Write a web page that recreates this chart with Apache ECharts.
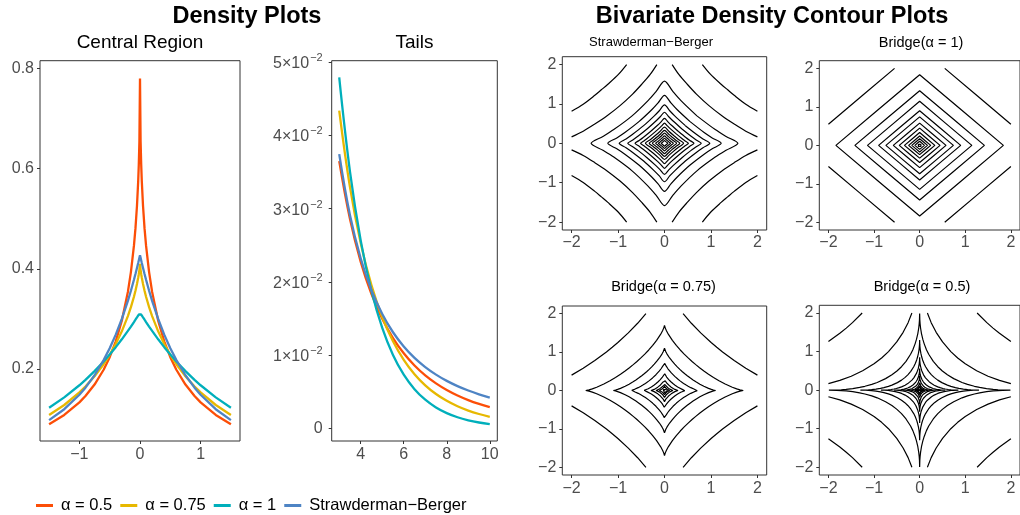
<!DOCTYPE html>
<html><head><meta charset="utf-8">
<script src="https://cdn.jsdelivr.net/npm/echarts@6/dist/echarts.min.js"></script>
<style>html,body{margin:0;padding:0;background:#fff}#c{width:1020px;height:515px}</style>
</head><body><div id="c"></div>
<script>
// ---------------- data ----------------
const seriesNames = ['α = 0.5', 'α = 0.75', 'α = 1', 'Strawderman−Berger'];
const seriesColors = ['#FC4E07', '#E7B800', '#00AFBB', '#4E84C4'];

const centralX = [-1.5,-1.25,-1,-0.9,-0.75,-0.6,-0.5,-0.4,-0.3,-0.2,-0.15,-0.1,-0.075,-0.05,-0.03,-0.02,-0.01,0,0.01,0.02,0.03,0.05,0.075,0.1,0.15,0.2,0.3,0.4,0.5,0.6,0.75,0.9,1,1.25,1.5];
const centralA05 = [.0895,.1081,.1331,.1458,.1687,.1983,.2235,.255,.2962,.3538,.3933,.446,.4806,.5253,.5742,.6075,.6536,.78,.6536,.6075,.5742,.5253,.4806,.446,.3933,.3538,.2962,.255,.2235,.1983,.1687,.1458,.1331,.1081,.0895];
const centralA075 = [.108,.1279,.1531,.1649,.1853,.2094,.2282,.2498,.275,.3054,.3233,.3441,.356,.3694,.3819,.3891,.3974,.41,.3974,.3891,.3819,.3694,.356,.3441,.3233,.3054,.275,.2498,.2282,.2094,.1853,.1649,.1531,.1279,.108];
const centralA1 = [.1224,.1431,.1673,.1781,.1956,.2148,.2286,.2434,.2591,.2758,.2845,.2936,.2982,.3029,.3067,.3086,.3106,.3125,.3106,.3086,.3067,.3029,.2982,.2936,.2845,.2758,.2591,.2434,.2286,.2148,.1956,.1781,.1673,.1431,.1224];
const centralSB = [.0977,.1195,.1484,.1625,.1873,.2175,.2412,.2684,.2997,.3359,.3561,.378,.3895,.4015,.4114,.4166,.4218,.427,.4218,.4166,.4114,.4015,.3895,.378,.3561,.3359,.2997,.2684,.2412,.2175,.1873,.1625,.1484,.1195,.0977];

const tailX = [3,3.5,4,4.5,5,5.5,6,6.5,7,7.5,8,8.5,9,9.5,10];
const tailA05 = [.0365,.02858,.02274,.01834,.01498,.01235,.01027,.008605,.007259,.00616,.005256,.004505,.00388,.003356,.002913];
const tailA075 = [.04339,.03294,.02527,.01953,.01521,.01191,.00938,.007425,.005904,.004715,.003777,.003036,.00245,.001983,.001608];
const tailA1 = [.04792,.03507,.02565,.01877,.01373,.010045,.007349,.005377,.003934,.002878,.002106,.0015405,.001127,.0008245,.000603];
const tailSB = [.03745,.0291,.0232,.01887,.01563,.01314,.0112,.009638,.008384,.007356,.006504,.005792,.005187,.004673,.00423];

const centralXTicks = [-1, 0, 1];
const centralYTicks = [0.2, 0.4, 0.6, 0.8];
const tailXTicks = [4, 6, 8, 10];
const tailYTicks = [0, 0.01, 0.02, 0.03, 0.04, 0.05];
const contourTicks = [-2, -1, 0, 1, 2];

const panelTitles = ['Central Region', 'Tails', 'Strawderman−Berger', 'Bridge(α = 1)', 'Bridge(α = 0.75)', 'Bridge(α = 0.5)'];

// contour lines: first-quadrant half (from the x-axis to the diagonal)
const sbClosed = [
  [[1.58,0],[1.326,0.175],[1.092,0.349],[0.698,0.698]],
  [[1.22,0],[1.027,0.138],[0.853,0.275],[0.551,0.551]],
  [[0.975,0],[0.828,0.112],[0.692,0.225],[0.449,0.449]],
  [[0.79,0],[0.675,0.092],[0.566,0.185],[0.37,0.37]],
  [[0.635,0],[0.545,0.075],[0.459,0.15],[0.301,0.301]],
  [[0.515,0],[0.444,0.062],[0.375,0.123],[0.247,0.247]],
  [[0.41,0],[0.3,0.099],[0.198,0.198]],
  [[0.33,0],[0.245,0.08],[0.16,0.16]],
  [[0.26,0],[0.194,0.064],[0.127,0.127]],
  [[0.19,0],[0.142,0.047],[0.094,0.094]],
  [[0.13,0],[0.097,0.032],[0.064,0.064]],
  [[0.07,0],[0.035,0.035]]
];
const sbOpen = [
  [[2,0.165],[1.75,0.308],[1.5,0.49],[1.25,0.687],[0.957,0.957]],
  [[2,0.815],[1.75,0.992],[1.5,1.219],[1.359,1.359]]
];
const b1Closed = [
  [[1.836,0],[0.918,0.918]],
  [[1.42,0],[0.71,0.71]],
  [[1.144,0],[0.572,0.572]],
  [[0.9,0],[0.45,0.45]],
  [[0.74,0],[0.37,0.37]],
  [[0.578,0],[0.289,0.289]],
  [[0.447,0],[0.2235,0.2235]],
  [[0.333,0],[0.1665,0.1665]],
  [[0.242,0],[0.121,0.121]],
  [[0.172,0],[0.086,0.086]],
  [[0.105,0],[0.0525,0.0525]],
  [[0.055,0],[0.0275,0.0275]]
];
const b1Open = [
  [[2,0.55],[1.275,1.275]]
];
const b075Closed = [
  [[1.695,0],[1.624,.017],[1.554,.042],[1.46,.085],[1.306,.17],[1.173,.254],[1.055,.339],[.947,.424],[.848,.509],[.755,.593],[.673,.673]],
  [[1.1,0],[1.054,.011],[1.009,.028],[.948,.055],[.847,.11],[.762,.165],[.685,.22],[.615,.275],[.55,.33],[.49,.385],[.437,.437]],
  [[.735,0],[.704,.007],[.674,.018],[.633,.037],[.566,.074],[.509,.11],[.458,.147],[.411,.184],[.368,.221],[.327,.257],[.292,.292]],
  [[.455,0],[.436,.005],[.392,.023],[.35,.046],[.283,.091],[.228,.137],[.181,.181]],
  [[.29,0],[.25,.015],[.223,.029],[.181,.058],[.145,.087],[.115,.115]],
  [[.18,0],[.155,.009],[.112,.036],[.071,.071]],
  [[.11,0],[.085,.011],[.044,.044]],
  [[.065,0],[.026,.026]],
  [[.03,0],[.012,.012]]
];
const b075Open = [
  [[2,.4],[1.75,.5785],[1.5,.7793],[1.25,1.0035],[1.125,1.125]]
];
const b05Closed = [
  [[1.99,0],[1.816,.004],[1.719,.01],[1.612,.02],[1.467,.04],[1.315,.07],[1.2,.1],[1.049,.149],[.93,.199],[.747,.299],[.608,.398],[.498,.498]],
  [[1.3,0],[1.186,.003],[1.123,.007],[1.053,.013],[.958,.026],[.859,.046],[.784,.065],[.685,.098],[.608,.13],[.488,.195],[.397,.26],[.325,.325]],
  [[.85,0],[.776,.002],[.734,.004],[.689,.009],[.627,.017],[.562,.03],[.512,.043],[.448,.064],[.397,.085],[.319,.128],[.26,.17],[.213,.213]],
  [[.56,0],[.511,.001],[.484,.003],[.454,.006],[.413,.011],[.37,.02],[.338,.028],[.295,.042],[.262,.056],[.21,.084],[.171,.112],[.14,.14]],
  [[.37,0],[.32,.002],[.273,.007],[.223,.019],[.173,.037],[.113,.074],[.093,.093]],
  [[.24,0],[.194,.002],[.145,.012],[.112,.024],[.073,.048],[.06,.06]],
  [[.155,0],[.114,.003],[.072,.016],[.039,.039]],
  [[.1,0],[.06,.005],[.025,.025]],
  [[.06,0],[.015,.015]],
  [[.035,0],[.009,.009]]
];
const b05Open = [
  [[2,.17],[1.75,.253],[1.5,.362],[1.25,.502],[1,.683],[.834,.834]],
  [[2,1.26],[1.75,1.473],[1.609,1.609]]
];

// ---------------- helpers ----------------
function quadrantArc(half) {
  const back = half.slice(0, -1).reverse().map(p => [p[1], p[0]]);
  return half.concat(back);
}
function closedLoop(half) {
  const q = quadrantArc(half);
  const q2 = q.slice().reverse().map(p => [-p[0], p[1]]);
  const q3 = q.map(p => [-p[0], -p[1]]);
  const q4 = q.slice().reverse().map(p => [p[0], -p[1]]);
  const loop = q.concat(q2.slice(1), q3.slice(1), q4.slice(1));
  const idx = half.length - 1;
  return loop.slice(idx).concat(loop.slice(1, idx + 1));
}
function openArcs(half) {
  const q = quadrantArc(half);
  return [q, q.map(p => [-p[0], p[1]]), q.map(p => [-p[0], -p[1]]), q.map(p => [p[0], -p[1]])];
}
const minus = v => String(v).replace('-', '−');
const FONT = '"Liberation Sans", Arial, sans-serif';
const axisCol = '#333333';
const labCol = '#4D4D4D';
const TICKFS = 16;

function mkAxis(grid, min, max, ticks, fmt, margin) {
  return { gridIndex: grid, type: 'value', min, max,
    axisLine: { show: false, onZero: false },
    axisTick: { show: true, length: 3, customValues: ticks, lineStyle: { color: axisCol, width: 1 } },
    axisLabel: { customValues: ticks, formatter: fmt || minus, color: labCol, fontSize: TICKFS, fontFamily: FONT, margin: margin || 6 },
    splitLine: { show: false } };
}

const grids = [
  { left: 40, top: 60.7, width: 200, height: 380.3 },
  { left: 331.7, top: 60.7, width: 165.6, height: 380.3 },
  { left: 562.3, top: 56.7, width: 204.4, height: 173.3 },
  { left: 819.3, top: 60.7, width: 204.4, height: 169.3 },
  { left: 562.3, top: 306, width: 204.4, height: 169 },
  { left: 819.3, top: 305.3, width: 204.4, height: 169.7 }
].map(g => Object.assign({ show: true, borderColor: axisCol, borderWidth: 1, backgroundColor: '#fff' }, g));

const xAxes = [
  mkAxis(0, -1.65, 1.65, centralXTicks, null, 6),
  mkAxis(1, 2.65, 10.35, tailXTicks, null, 6),
  mkAxis(2, -2.2, 2.2, contourTicks, null, 5),
  mkAxis(3, -2.2, 2.2, contourTicks, null, 5),
  mkAxis(4, -2.2, 2.2, contourTicks, null, 6),
  mkAxis(5, -2.2, 2.2, contourTicks, null, 6)
];
const tailY = mkAxis(1, -0.0017, 0.0502, tailYTicks,
  v => v === 0 ? '{a|0}' : '{a|' + Math.round(v * 100) + '×10}{s|−2}', 9);
tailY.axisLabel.rich = {
  a: { fontSize: TICKFS, color: labCol, fontFamily: FONT, verticalAlign: 'bottom' },
  s: { fontSize: 11, color: labCol, fontFamily: FONT, verticalAlign: 'top', padding: [0, 0, 8, 1] }
};
const yAxes = [
  mkAxis(0, 0.056, 0.8155, centralYTicks, v => v.toFixed(1), 6),
  tailY,
  mkAxis(2, -2.2, 2.2, contourTicks, null, 6),
  mkAxis(3, -2.2, 2.2, contourTicks, null, 6),
  mkAxis(4, -2.2, 2.2, contourTicks, null, 6),
  mkAxis(5, -2.2, 2.2, contourTicks, null, 6)
];

const series = [];
const centralVals = [centralA05, centralA075, centralA1, centralSB];
const tailVals = [tailA05, tailA075, tailA1, tailSB];
centralVals.forEach((vals, i) => {
  series.push({ name: seriesNames[i], type: 'line', xAxisIndex: 0, yAxisIndex: 0,
    data: centralX.map((x, j) => [x, vals[j]]), symbol: 'none', smooth: false,
    lineStyle: { color: seriesColors[i], width: 2.3 }, itemStyle: { color: seriesColors[i] } });
});
tailVals.forEach((vals, i) => {
  series.push({ name: seriesNames[i], type: 'line', xAxisIndex: 1, yAxisIndex: 1,
    data: tailX.map((x, j) => [x, vals[j]]), symbol: 'none', smooth: 0.4,
    lineStyle: { color: seriesColors[i], width: 2.3 }, itemStyle: { color: seriesColors[i] } });
});
function addContours(grid, closed, open, smooth) {
  closed.forEach(h => series.push({ type: 'line', xAxisIndex: grid, yAxisIndex: grid, data: closedLoop(h),
    symbol: 'none', smooth, silent: true, lineStyle: { color: '#000', width: 1.2 } }));
  open.forEach(h => openArcs(h).forEach(arc => series.push({ type: 'line', xAxisIndex: grid, yAxisIndex: grid,
    data: arc, symbol: 'none', smooth, silent: true, lineStyle: { color: '#000', width: 1.2 } })));
}
addContours(2, sbClosed, sbOpen, 0.3);
addContours(3, b1Closed, b1Open, false);
addContours(4, b075Closed, b075Open, false);
addContours(5, b05Closed, b05Open, false);

const textEl = (t, x, y, size, bold) => ({ type: 'text', x, y, silent: true,
  style: { text: t, font: (bold ? 'bold ' : '') + size + 'px ' + FONT, fill: '#000', textAlign: 'center', textVerticalAlign: 'middle' } });

const graphic = [
  textEl('Density Plots', 247, 17, 23.5, true),
  textEl('Bivariate Density Contour Plots', 772, 17, 23.5, true),
  textEl(panelTitles[0], 140, 43, 19),
  textEl(panelTitles[1], 414.5, 43, 19),
  textEl(panelTitles[2], 651, 42.5, 13),
  textEl(panelTitles[3], 921, 42.5, 14.5),
  textEl(panelTitles[4], 663.5, 287, 14.5),
  textEl(panelTitles[5], 922, 287, 14.5)
];

const chart = echarts.init(document.getElementById('c'), null, { renderer: 'canvas' });
chart.setOption({
  animation: false,
  backgroundColor: '#fff',
  grid: grids, xAxis: xAxes, yAxis: yAxes, series, graphic,
  legend: { data: seriesNames, left: 31, top: 492, icon: 'rect', itemWidth: 17, itemHeight: 3, itemGap: 8,
    textStyle: { fontSize: 16.5, color: '#000', fontFamily: FONT, padding: [0, 0, 0, 3] }, selectedMode: false }
});
</script></body></html>
